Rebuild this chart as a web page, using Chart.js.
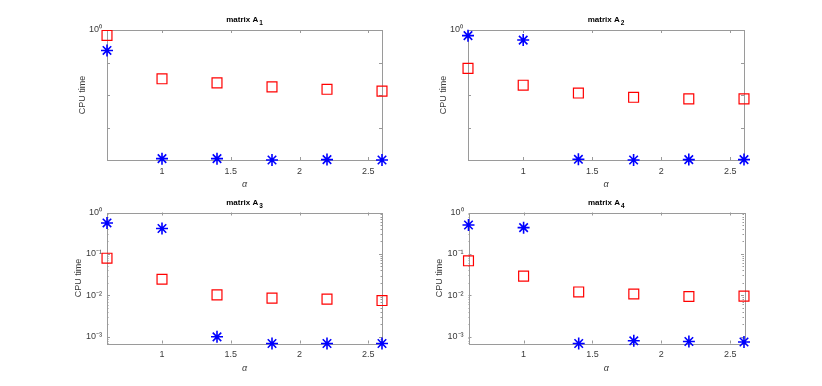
<!DOCTYPE html>
<html>
<head>
<meta charset="utf-8">
<script src="https://cdn.jsdelivr.net/npm/chart.js@4.4.1/dist/chart.umd.min.js"></script>
<style>
    body { margin: 0; background: #fff; width: 822px; height: 386px; position: relative; overflow: hidden; }
    canvas { position: absolute; }
</style>
</head>
<body>
<canvas id="c1" width="411" height="193" style="left:0;top:0"></canvas>
<canvas id="c2" width="411" height="193" style="left:411px;top:0"></canvas>
<canvas id="c3" width="411" height="193" style="left:0;top:193px"></canvas>
<canvas id="c4" width="411" height="193" style="left:411px;top:193px"></canvas>
<script>
// valores
const alpha = [0.6, 1, 1.4, 1.8, 2.2, 2.6];
const xTicks = [1, 1.5, 2, 2.5];

const a1Squares = [0.68, 0.0315, 0.0236, 0.0178, 0.015, 0.0132];
const a1Stars = [0.235, 1.1e-4, 1.1e-4, 1.0e-4, 1.03e-4, 1.0e-4];

const a2Squares = [0.066, 0.020, 0.0115, 0.0085, 0.0076, 0.0076];
const a2Stars = [0.67, 0.49, 1.05e-4, 1.0e-4, 1.03e-4, 1.03e-4];

const a3Squares = [0.079, 0.0245, 0.0103, 0.0086, 0.0081, 0.0075];
const a3Stars = [0.56, 0.41, 1.0e-3, 6.9e-4, 6.9e-4, 6.9e-4];

const a4Squares = [0.068, 0.029, 0.012, 0.0107, 0.0093, 0.0095];
const a4Stars = [0.50, 0.43, 6.8e-4, 7.9e-4, 7.6e-4, 7.4e-4];

const yTicks = [1e-3, 1e-2, 1e-1, 1];
const yLabelsTop = ['', '', '', '10⁰'];
const yLabelsBottom = ['10⁻³', '10⁻²', '10⁻¹', '10⁰'];

const FONT = '"Liberation Sans", Arial, sans-serif';
const AXIS_COLOR = '#9a9a9a';
const TEXT_COLOR = '#3a3a3a';

document.addEventListener("DOMContentLoaded", function () {
    f_matrix('c1', '1', a1Squares, a1Stars, 1e-4, yLabelsTop, false, { left: 107, right: 382, top: 30, bottom: 160 });
    f_matrix('c2', '2', a2Squares, a2Stars, 1e-4, yLabelsTop, false, { left: 57, right: 333, top: 30, bottom: 160 });
    f_matrix('c3', '3', a3Squares, a3Stars, 6.9e-4, yLabelsBottom, true, { left: 107, right: 382, top: 19.5, bottom: 150.5 });
    f_matrix('c4', '4', a4Squares, a4Stars, 6.8e-4, yLabelsBottom, true, { left: 57.5, right: 333, top: 19.5, bottom: 150.5 });
});

// marco, marcas hacia adentro y titulo con subindice
const matlabAxes = {
    id: 'matlabAxes',
    beforeDatasetsDraw(chart, args, opts) {
        const ctx = chart.ctx;
        const a = chart.chartArea;
        const xs = chart.scales.x;
        const ys = chart.scales.y;
        ctx.save();
        ctx.strokeStyle = AXIS_COLOR;
        ctx.lineWidth = 1;
        ctx.strokeRect(Math.round(a.left) + 0.5, Math.round(a.top) + 0.5, Math.round(a.right - a.left), Math.round(a.bottom - a.top));
        ctx.beginPath();
        xTicks.forEach(v => {
            const px = Math.round(xs.getPixelForValue(v)) + 0.5;
            ctx.moveTo(px, a.bottom); ctx.lineTo(px, a.bottom - 3);
            ctx.moveTo(px, a.top); ctx.lineTo(px, a.top + 3);
        });
        yTicks.forEach(v => {
            const py = Math.round(ys.getPixelForValue(v)) + 0.5;
            ctx.moveTo(a.left, py); ctx.lineTo(a.left + 3, py);
            ctx.moveTo(a.right, py); ctx.lineTo(a.right - 3, py);
        });
        if (opts.minor) {
            for (let d = 1e-4; d < 1; d *= 10) {
                for (let k = 2; k < 10; k++) {
                    const v = k * d;
                    if (v < ys.min || v > ys.max) continue;
                    const py = Math.round(ys.getPixelForValue(v)) + 0.5;
                    ctx.moveTo(a.left, py); ctx.lineTo(a.left + 1.5, py);
                    ctx.moveTo(a.right, py); ctx.lineTo(a.right - 1.5, py);
                }
            }
        }
        ctx.stroke();

        // titulo "matrix A" + subindice
        ctx.fillStyle = '#000';
        ctx.textBaseline = 'alphabetic';
        ctx.font = 'bold 8px ' + FONT;
        const main = 'matrix A';
        const wMain = ctx.measureText(main).width;
        ctx.font = 'bold 6.5px ' + FONT;
        const wSub = ctx.measureText(opts.sub).width;
        const x0 = (a.left + a.right) / 2 - (wMain + wSub + 1) / 2;
        const y0 = a.top - 8;
        ctx.font = 'bold 8px ' + FONT;
        ctx.fillText(main, x0, y0);
        ctx.font = 'bold 6.5px ' + FONT;
        ctx.fillText(opts.sub, x0 + wMain + 1, y0 + 3);
        ctx.restore();
    }
};

function f_matrix(id, sub, squares, stars, yMin, yLabels, minor, area) {
    const canvas = document.getElementById(id);
    const W = canvas.width;
    const H = canvas.height;
    const yw = minor ? 34 : 30;
    const xh = 30;
    new Chart(canvas, {
        type: 'scatter',
        data: {
            datasets: [
                {
                    label: 'cuadrados',
                    data: alpha.map((x, i) => ({ x: x, y: squares[i] })),
                    pointStyle: 'rect',
                    pointRadius: 7,
                    borderColor: '#ff0000',
                    backgroundColor: 'rgba(0,0,0,0)',
                    borderWidth: 1.2,
                    clip: false
                },
                {
                    label: 'estrellas',
                    data: alpha.map((x, i) => ({ x: x, y: stars[i] })),
                    pointStyle: 'star',
                    pointRadius: 6,
                    borderColor: '#0000ff',
                    backgroundColor: '#0000ff',
                    borderWidth: 1.6,
                    clip: false
                }
            ]
        },
        options: {
            responsive: false,
            animation: false,
            devicePixelRatio: 1,
            layout: {
                padding: {
                    left: area.left - yw,
                    right: W - area.right,
                    top: area.top,
                    bottom: H - area.bottom - xh
                }
            },
            scales: {
                x: {
                    type: 'linear',
                    min: 0.6,
                    max: 2.6,
                    afterBuildTicks: s => { s.ticks = xTicks.map(v => ({ value: v })); },
                    afterFit: s => { s.height = xh; },
                    grid: { display: false, drawTicks: false },
                    border: { display: false },
                    ticks: {
                        autoSkip: false,
                        maxRotation: 0,
                        padding: 6,
                        color: TEXT_COLOR,
                        font: { family: FONT, size: 9 },
                        callback: v => String(v)
                    },
                    title: {
                        display: true,
                        text: 'α',
                        color: TEXT_COLOR,
                        padding: 0,
                        font: { family: FONT, size: 9, style: 'italic' }
                    }
                },
                y: {
                    type: 'logarithmic',
                    min: yMin,
                    max: 1,
                    afterBuildTicks: s => { s.ticks = yTicks.map(v => ({ value: v })); },
                    afterFit: s => { s.width = yw; },
                    grid: { display: false, drawTicks: false },
                    border: { display: false },
                    ticks: {
                        autoSkip: false,
                        padding: 5,
                        color: TEXT_COLOR,
                        font: { family: FONT, size: 9 },
                        callback: (v, i) => yLabels[i]
                    },
                    title: {
                        display: true,
                        text: 'CPU time',
                        color: TEXT_COLOR,
                        padding: 0,
                        font: { family: FONT, size: 9 }
                    }
                }
            },
            plugins: {
                legend: { display: false },
                tooltip: { enabled: false },
                matlabAxes: { sub: sub, minor: minor }
            }
        },
        plugins: [matlabAxes]
    });
}
</script>
</body>
</html>
